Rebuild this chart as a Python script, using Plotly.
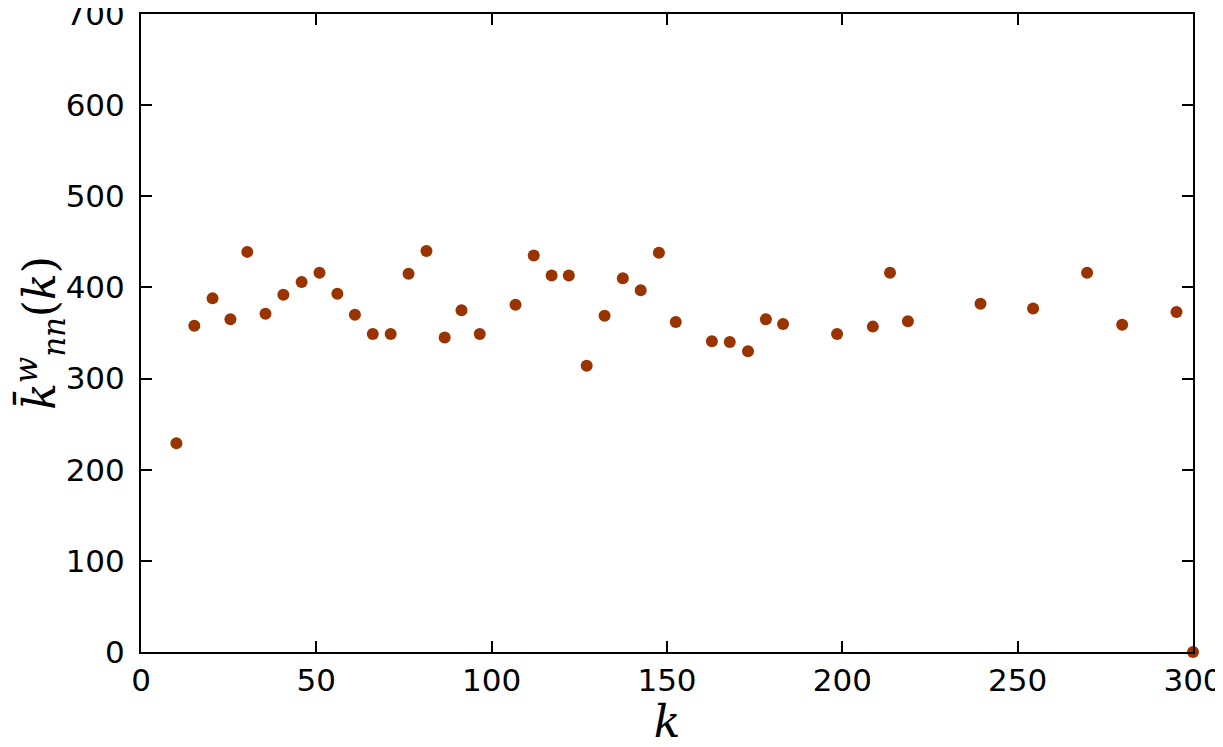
import plotly.graph_objects as go

# degree k and weighted average nearest-neighbour degree
k = [10.1, 15.2, 20.4, 25.5, 30.3, 35.5, 40.6, 45.8, 50.9, 56.0,
     61.0, 66.1, 71.2, 76.3, 81.4, 86.6, 91.4, 96.6, 106.8, 112.0,
     117.1, 122.0, 127.1, 132.2, 137.4, 142.5, 147.7, 152.5, 162.8, 167.9,
     173.1, 178.2, 183.1, 198.5, 208.7, 213.6, 218.7, 239.4, 254.4, 269.8,
     279.8, 295.3, 300.0]
knn_w = [229, 358, 388, 365, 439, 371, 392, 406, 416, 393,
         370, 349, 349, 415, 440, 345, 375, 349, 381, 435,
         413, 413, 314, 369, 410, 397, 438, 362, 341, 340,
         330, 365, 360, 349, 357, 416, 363, 382, 377, 416,
         359, 373, 0]

x_ticks = [0, 50, 100, 150, 200, 250, 300]
y_ticks = [0, 100, 200, 300, 400, 500, 600, 700]

fig = go.Figure()
fig.add_trace(go.Scatter(
    x=k, y=knn_w,
    mode="markers",
    marker=dict(color="#993300", size=12),
    cliponaxis=False,
    showlegend=False,
))

axis_style = dict(
    showline=True, linecolor="black", linewidth=2,
    mirror="allticks", ticks="inside", ticklen=11, tickwidth=2,
    tickcolor="black", showgrid=False, zeroline=False,
    ticklabeloverflow="allow", automargin=False,
    tickfont=dict(family="DejaVu Sans", size=31, color="black"),
)

fig.update_xaxes(
    range=[0, 300], tickvals=x_ticks,
    title=dict(text="<i>k</i>", font=dict(family="DejaVu Serif", size=44, color="black"),
               standoff=11),
    **axis_style,
)
fig.update_yaxes(
    range=[0, 700], tickvals=y_ticks, ticklabelstandoff=8,
    title=dict(text="<i>k̄</i><sup><i>w</i></sup><sub><i>nn</i></sub>(<i>k</i>)",
               font=dict(family="DejaVu Serif", size=44, color="black"),
               standoff=24),
    **axis_style,
)

# the page body keeps its default 8px margin, so the figure is sized to fit inside it
fig.update_layout(
    width=1215, height=739,
    margin=dict(l=133, r=30, t=6, b=95),
    plot_bgcolor="white", paper_bgcolor="white",
)

fig.write_html("out.html")
